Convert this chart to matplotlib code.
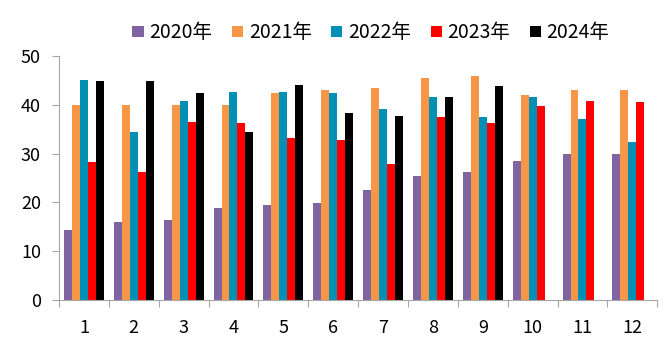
import matplotlib
matplotlib.use('Agg')
import matplotlib.pyplot as plt
import numpy as np

plt.rcParams['font.family'] = ['Noto Sans CJK SC', 'DejaVu Sans']

months = ['1', '2', '3', '4', '5', '6', '7', '8', '9', '10', '11', '12']
series_names = ['2020年', '2021年', '2022年', '2023年', '2024年']
v2020 = [14.3, 16.0, 16.4, 18.9, 19.5, 19.9, 22.5, 25.4, 26.2, 28.5, 29.9, 29.9]
v2021 = [40.0, 40.0, 40.0, 40.0, 42.4, 43.0, 43.4, 45.5, 45.9, 42.0, 43.0, 43.0]
v2022 = [45.1, 34.4, 40.8, 42.6, 42.6, 42.4, 39.1, 41.6, 37.5, 41.6, 37.1, 32.4]
v2023 = [28.3, 26.2, 36.5, 36.3, 33.2, 32.8, 27.9, 37.5, 36.3, 39.8, 40.8, 40.6]
v2024 = [44.9, 44.9, 42.4, 34.4, 44.1, 38.3, 37.7, 41.6, 43.9, np.nan, np.nan, np.nan]
colors = ['#8064A2', '#F79646', '#008FB5', '#FF0000', '#000000']

def main():
	fig = plt.figure(figsize=(6.7, 3.55), dpi=100)
	ax = fig.add_axes([0.088, 0.155, 0.893, 0.687])
	x = np.arange(1, len(months) + 1)
	w = 0.16
	data = [v2020, v2021, v2022, v2023, v2024]
	for i, vals in enumerate(data):
		ax.bar(x + (i - 2) * w, vals, width=w, color=colors[i], label=series_names[i])

	ax.set_xlim(0.5, 12.5)
	ax.set_ylim(0, 50)
	ax.set_yticks(range(0, 51, 10))
	ax.set_xticks(np.arange(0.5, 13, 1))
	ax.set_xticklabels([])
	ax.set_xticks(x, minor=True)
	ax.set_xticklabels(months, minor=True)
	ax.tick_params(axis='x', which='minor', length=0, pad=14, labelsize=13)
	ax.tick_params(axis='x', which='major', length=5, color='#A6A6A6', direction='out')
	ax.tick_params(axis='y', length=5, color='#A6A6A6', direction='out', labelsize=13, pad=8)

	for s in ['top', 'right']:
		ax.spines[s].set_visible(False)
	for s in ['left', 'bottom']:
		ax.spines[s].set_color('#A6A6A6')

	fig.legend(loc='center', bbox_to_anchor=(371 / 670, 1 - 33 / 355), ncol=5,
		frameon=False, fontsize=14, handlelength=0.57, handleheight=0.55,
		handletextpad=0.3, columnspacing=1.0)

	fig.savefig('out.png', dpi=100)

if __name__ == '__main__':
	main()
